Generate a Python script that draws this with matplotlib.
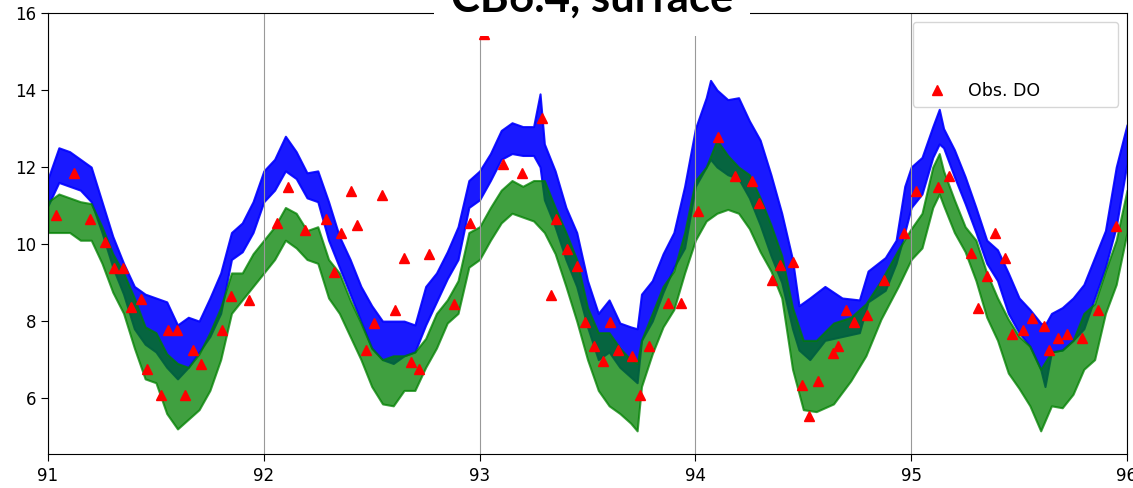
import matplotlib.pyplot as plt
from matplotlib.lines import Line2D

# model DO, upper / lower edges of the noisy trace (mg/L) vs day
blue_x = [91.00, 91.05, 91.10, 91.15, 91.20, 91.25, 91.30, 91.35, 91.40, 91.45,
          91.50, 91.55, 91.60, 91.65, 91.70, 91.75, 91.80, 91.85, 91.90, 91.95,
          92.00, 92.05, 92.10, 92.15, 92.20, 92.25, 92.30, 92.35, 92.40, 92.45,
          92.50, 92.55, 92.60, 92.65, 92.70, 92.75, 92.80, 92.85, 92.90, 92.95,
          93.00, 93.05, 93.10, 93.15, 93.20, 93.25, 93.28, 93.30, 93.35, 93.40,
          93.45, 93.50, 93.55, 93.60, 93.65, 93.70, 93.73, 93.75, 93.80, 93.85,
          93.90, 93.95, 94.00, 94.05, 94.07, 94.10, 94.15, 94.20, 94.25, 94.30,
          94.35, 94.40, 94.45, 94.48, 94.53, 94.60, 94.68, 94.76, 94.80, 94.88,
          94.93, 94.97, 95.00, 95.05, 95.10, 95.13, 95.15, 95.20, 95.25, 95.30,
          95.35, 95.40, 95.45, 95.50, 95.55, 95.60, 95.62, 95.65, 95.70, 95.75,
          95.80, 95.85, 95.90, 95.95, 96.00]
blue_lo = [11.0, 11.6, 11.5, 11.4, 11.1, 10.3, 9.4, 8.7, 7.8, 7.4,
           7.2, 6.8, 6.5, 6.8, 7.2, 7.6, 8.2, 9.6, 9.8, 10.3,
           11.1, 11.4, 11.9, 11.7, 11.2, 11.1, 10.1, 9.4, 8.7, 8.0,
           7.3, 7.0, 6.9, 7.1, 7.2, 7.9, 8.5, 9.1, 9.6, 10.95,
           11.15, 11.65, 12.2, 12.35, 12.3, 12.3, 12.0, 11.15, 10.45, 9.6,
           8.9, 7.85, 7.0, 7.2, 6.8, 6.55, 6.4, 7.5, 8.0, 8.75,
           9.4, 9.9, 11.5, 12.0, 12.2, 12.0, 11.8, 11.7, 11.2, 10.5,
           9.7, 9.0, 7.8, 7.25, 7.0, 7.5, 7.6, 7.7, 8.5, 8.8,
           9.5, 10.3, 10.95, 11.3, 12.25, 12.6, 12.5, 11.75, 11.05, 10.3,
           9.5, 9.05, 8.2, 7.7, 7.35, 6.75, 6.3, 7.2, 7.25, 7.5,
           7.8, 8.6, 9.4, 10.45, 12.1]
blue_hi = [11.7, 12.5, 12.4, 12.2, 12.0, 11.1, 10.2, 9.5, 8.9, 8.7,
           8.6, 8.5, 7.9, 8.1, 8.0, 8.6, 9.25, 10.3, 10.55, 11.1,
           11.9, 12.2, 12.8, 12.4, 11.85, 11.9, 11.1, 10.2, 9.6, 8.9,
           8.4, 8.0, 8.0, 8.0, 7.9, 8.9, 9.25, 9.8, 10.45, 11.65,
           11.9, 12.35, 12.95, 13.15, 13.05, 13.05, 13.9, 12.6, 11.9, 10.95,
           10.3, 9.05, 8.2, 8.55, 7.95, 7.85, 7.8, 8.7, 9.05, 9.75,
           10.3, 11.5, 13.0, 13.8, 14.25, 14.0, 13.75, 13.8, 13.2, 12.7,
           11.8, 10.8, 9.6, 8.4, 8.6, 8.9, 8.6, 8.55, 9.3, 9.65,
           10.1, 11.5, 12.0, 12.25, 13.05, 13.5, 13.0, 12.45, 11.75, 10.95,
           10.1, 9.85, 9.25, 8.6, 8.3, 7.95, 7.9, 8.2, 8.35, 8.6,
           8.95, 9.65, 10.35, 12.0, 13.1]

green_x = [91.00, 91.05, 91.10, 91.15, 91.20, 91.25, 91.30, 91.35, 91.40, 91.45,
           91.50, 91.55, 91.60, 91.65, 91.70, 91.75, 91.80, 91.85, 91.90, 91.95,
           92.00, 92.05, 92.10, 92.15, 92.20, 92.25, 92.30, 92.35, 92.40, 92.45,
           92.50, 92.55, 92.60, 92.65, 92.70, 92.75, 92.80, 92.85, 92.90, 92.95,
           93.00, 93.05, 93.10, 93.15, 93.20, 93.25, 93.30, 93.35, 93.40, 93.45,
           93.50, 93.55, 93.60, 93.65, 93.70, 93.73, 93.75, 93.80, 93.85, 93.90,
           93.95, 94.00, 94.05, 94.10, 94.15, 94.20, 94.25, 94.30, 94.35, 94.40,
           94.45, 94.50, 94.56, 94.64, 94.72, 94.79, 94.86, 94.94, 95.00, 95.05,
           95.10, 95.13, 95.15, 95.20, 95.25, 95.30, 95.35, 95.40, 95.45, 95.50,
           95.55, 95.60, 95.65, 95.70, 95.75, 95.80, 95.85, 95.90, 95.95, 96.00]
green_lo = [10.3, 10.3, 10.3, 10.1, 10.1, 9.5, 8.75, 8.2, 7.3, 6.5,
            6.4, 5.6, 5.2, 5.45, 5.7, 6.2, 7.0, 8.2, 8.55, 8.9,
            9.25, 9.6, 10.1, 9.9, 9.6, 9.5, 8.6, 8.2, 7.6, 7.0,
            6.3, 5.85, 5.8, 6.2, 6.2, 6.8, 7.3, 7.95, 8.2, 9.4,
            9.6, 10.1, 10.55, 10.8, 10.7, 10.6, 10.3, 9.75, 8.9, 8.0,
            7.0, 6.2, 5.8, 5.6, 5.35, 5.15, 6.3, 7.15, 7.85, 8.3,
            9.25, 10.1, 10.6, 10.8, 10.9, 10.8, 10.4, 9.8, 9.3, 8.6,
            6.75, 5.7, 5.65, 5.85, 6.45, 7.1, 8.05, 8.9, 9.6, 9.9,
            10.95, 11.3, 11.0, 10.3, 9.8, 9.05, 8.1, 7.5, 6.65, 6.25,
            5.8, 5.15, 5.8, 5.75, 6.1, 6.75, 7.0, 8.2, 8.95, 10.3]
green_hi = [11.1, 11.3, 11.2, 11.1, 11.05, 10.45, 9.75, 9.25, 8.6, 7.85,
            7.7, 7.15, 6.9, 6.8, 7.15, 7.7, 8.35, 9.25, 9.25, 9.75,
            10.1, 10.45, 10.95, 10.8, 10.35, 10.45, 9.6, 9.25, 8.55, 7.95,
            7.3, 7.0, 7.1, 7.1, 7.2, 7.55, 8.2, 8.55, 9.05, 10.3,
            10.45, 10.95, 11.4, 11.65, 11.5, 11.65, 11.65, 10.95, 10.3, 9.6,
            8.35, 7.7, 7.7, 7.3, 7.0, 6.9, 7.5, 8.2, 8.9, 9.3,
            10.3, 11.65, 12.0, 12.7, 12.3, 12.0, 11.8, 11.2, 10.5, 9.7,
            8.35, 7.5, 7.5, 7.95, 8.1, 8.45, 9.05, 9.85, 10.4, 10.8,
            12.0, 12.35, 11.9, 11.15, 10.45, 10.1, 9.25, 8.6, 8.05, 7.6,
            7.35, 6.75, 7.2, 7.25, 7.5, 8.2, 8.45, 9.3, 10.1, 11.4]

# observed DO
obs_day = [91.036, 91.12, 91.193, 91.264, 91.306, 91.347, 91.383, 91.43, 91.46, 91.525,
           91.555, 91.597, 91.637, 91.673, 91.71, 91.806, 91.847, 91.93, 92.059, 92.114,
           92.19, 92.287, 92.324, 92.356, 92.403, 92.434, 92.475, 92.512, 92.546, 92.608,
           92.648, 92.68, 92.72, 92.767, 92.88, 92.957, 93.02, 93.108, 93.198, 93.287,
           93.329, 93.355, 93.404, 93.452, 93.49, 93.528, 93.571, 93.605, 93.64, 93.708,
           93.744, 93.784, 93.875, 93.932, 94.014, 94.105, 94.184, 94.26, 94.296, 94.355,
           94.392, 94.45, 94.492, 94.528, 94.57, 94.636, 94.659, 94.70, 94.737, 94.795,
           94.872, 94.968, 95.022, 95.122, 95.176, 95.276, 95.31, 95.353, 95.389, 95.435,
           95.468, 95.52, 95.562, 95.614, 95.64, 95.682, 95.724, 95.793, 95.866, 95.947]
obs_do = [10.75, 11.85, 10.64, 10.06, 9.37, 9.37, 8.36, 8.57, 6.75, 6.08,
          7.77, 7.77, 6.08, 7.25, 6.88, 7.77, 8.65, 8.55, 10.54, 11.49,
          10.36, 10.64, 9.28, 10.28, 11.38, 10.5, 7.25, 7.95, 11.27, 8.28,
          9.65, 6.95, 6.75, 9.75, 8.44, 10.55, 15.45, 12.08, 11.85, 13.28,
          8.68, 10.64, 9.87, 9.44, 7.97, 7.36, 6.97, 7.97, 7.25, 7.09,
          6.08, 7.36, 8.47, 8.47, 10.86, 12.77, 11.77, 11.64, 11.07, 9.06,
          9.45, 9.54, 6.34, 5.54, 6.44, 7.16, 7.35, 8.29, 7.97, 8.17,
          9.06, 10.28, 11.38, 11.49, 11.77, 9.76, 8.35, 9.18, 10.28, 9.64,
          7.66, 7.78, 8.09, 7.87, 7.25, 7.57, 7.66, 7.57, 8.29, 10.47]

fig = plt.figure(figsize=(11.33, 4.88), dpi=100)
ax = fig.add_axes([0.0424, 0.0697, 0.9523, 0.9037])

ax.fill_between(blue_x, blue_lo, blue_hi, color='blue', alpha=0.9, lw=1.5, edgecolor='blue')
ax.fill_between(green_x, green_lo, green_hi, color='green', alpha=0.75, lw=1.5, edgecolor='green')
ax.plot(obs_day, obs_do, '^', color='red', ms=6.5, zorder=4)

ax.set_xlim(91, 96)
ax.set_ylim(4.55, 16)
ax.set_xticks([91, 92, 93, 94, 95, 96])
ax.set_yticks([6, 8, 10, 12, 14, 16])
ax.tick_params(labelsize=12, length=5)
ax.tick_params(axis='x', pad=4.5)
ax.grid(axis='x', color='0.6', lw=0.8)

# legend: two blank rows then the obs marker
blank = Line2D([], [], ls='none')
obs_handle = Line2D([], [], ls='none', marker='^', color='red', ms=6.5)
ax.legend([blank, blank, obs_handle], [' ' * 26, ' ' * 26, 'Obs. DO'],
          loc='upper right', fontsize=12.5)

fig.text(592 / 1133, 1 - 12 / 488, 'CB6.4, surface', ha='center', va='baseline',
         fontsize=31.5, fontweight='bold', family='Lato',
         bbox=dict(facecolor='white', edgecolor='none', boxstyle='square,pad=0.38'))

fig.savefig('out.png', dpi=100)
